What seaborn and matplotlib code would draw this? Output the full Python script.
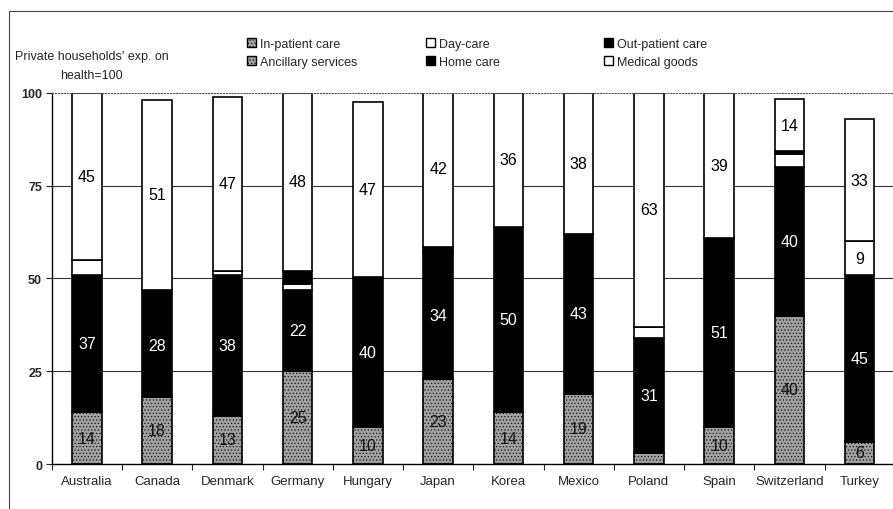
import numpy as np
import pandas as pd
import matplotlib
matplotlib.use("Agg")
import matplotlib.pyplot as plt
from matplotlib.patches import Patch, Rectangle
import seaborn as sns

# values (share of private households' exp. on health)
countries = ["Australia", "Canada", "Denmark", "Germany", "Hungary", "Japan",
             "Korea", "Mexico", "Poland", "Spain", "Switzerland", "Turkey"]
in_patient = [14, 18, 13, 25, 10, 23, 14, 19, 3, 10, 40, 6]
day_care = [0, 0, 0, 0, 0, 0, 0, 0, 0, 0, 0, 0]
out_patient = [37, 28, 38, 22, 40, 34, 50, 43, 31, 51, 40, 45]
ancillary = [4, 0, 1, 1.5, 0, 0, 0, 0, 3, 0, 3.5, 9]
home_care = [0, 1, 0, 3.5, 0.5, 1.5, 0, 0, 0, 0, 0.8, 0]
medical_goods = [45, 51, 47, 48, 47, 42, 36, 38, 63, 39, 14, 33]

GRAY = "#a0a0a0"
series = [
    ("In-patient care", in_patient, GRAY, "#111111", "....."),
    ("Day-care", day_care, "white", "black", None),
    ("Out-patient care", out_patient, "black", "white", None),
    ("Ancillary services", ancillary, "white", "black", None),
    ("Home care", home_care, "black", "white", None),
    ("Medical goods", medical_goods, "white", "black", None),
]

sns.set_style("white")
plt.rcParams["font.family"] = ["Liberation Sans", "DejaVu Sans"]
plt.rcParams["hatch.linewidth"] = 0.4

fig = plt.figure(figsize=(8.93, 5.10), dpi=100)
ax = fig.add_axes([0.058, 0.088, 0.944, 0.728])

# grid lines behind the bars
for yv in [25, 50, 75]:
    ax.axhline(yv, color="#333333", lw=0.8, zorder=0)

bottom = np.zeros(len(countries))
for name, vals, fc, tc, hatch in series:
    vals = np.array(vals, dtype=float)
    sns.barplot(x=countries, y=vals, bottom=bottom, color=fc, edgecolor="black",
                linewidth=1.2, width=0.42, saturation=1, hatch=hatch, ax=ax, zorder=2)
    for i, v in enumerate(vals):
        if v >= 5:
            ax.text(i, bottom[i] + v / 2, f"{v:.0f}", ha="center", va="center",
                    fontsize=11.5, color=tc, zorder=3)
    bottom = bottom + vals

ax.set_xlim(-0.5, len(countries) - 0.5)
ax.set_ylim(0, 100)
ax.set_yticks([0, 25, 50, 75, 100])
ax.set_yticklabels(["0", "25", "50", "75", "100"], fontsize=9, fontweight="bold")
ax.tick_params(axis="y", length=4, width=0.8, left=True, pad=3)
ax.set_xticks(range(len(countries)))
ax.set_xticklabels(countries, fontsize=9.5)
ax.tick_params(axis="x", which="major", length=0, pad=8)
ax.set_xticks(np.arange(-0.5, len(countries), 1), minor=True)
ax.tick_params(axis="x", which="minor", length=4, width=0.8, bottom=True)
ax.set_xlabel("")
ax.set_ylabel("")

for side in ["left", "bottom"]:
    ax.spines[side].set_color("black")
    ax.spines[side].set_linewidth(1.0)
ax.spines["top"].set_linestyle(":")
ax.spines["top"].set_color("#555555")
ax.spines["right"].set_linestyle(":")
ax.spines["right"].set_color("#555555")

fig.text(0.1025, 0.869, "Private households' exp. on\nhealth=100", ha="center",
         va="center", fontsize=9, linespacing=1.75)

# legend: three columns placed one by one
legend_cols = [
    [Patch(facecolor=GRAY, edgecolor="black", hatch=".....", label="In-patient care"),
     Patch(facecolor=GRAY, edgecolor="black", hatch=".....", label="Ancillary services")],
    [Patch(facecolor="white", edgecolor="black", label="Day-care"),
     Patch(facecolor="black", edgecolor="black", label="Home care")],
    [Patch(facecolor="black", edgecolor="black", label="Out-patient care"),
     Patch(facecolor="white", edgecolor="black", label="Medical goods")],
]
for k, hs in enumerate(legend_cols):
    fig.legend(handles=hs, loc="center left",
               bbox_to_anchor=((241 + 178.5 * k) / 893, 0.894),
               frameon=False, fontsize=9, handlelength=0.7, handleheight=0.7,
               handletextpad=0.35, labelspacing=0.5, borderpad=0)

# outer frame
fig.patches.append(Rectangle((0.010, -0.02), 1.2, 0.996, transform=fig.transFigure,
                             fill=False, edgecolor="#444444", lw=0.8))

fig.savefig("out.png", dpi=100)
